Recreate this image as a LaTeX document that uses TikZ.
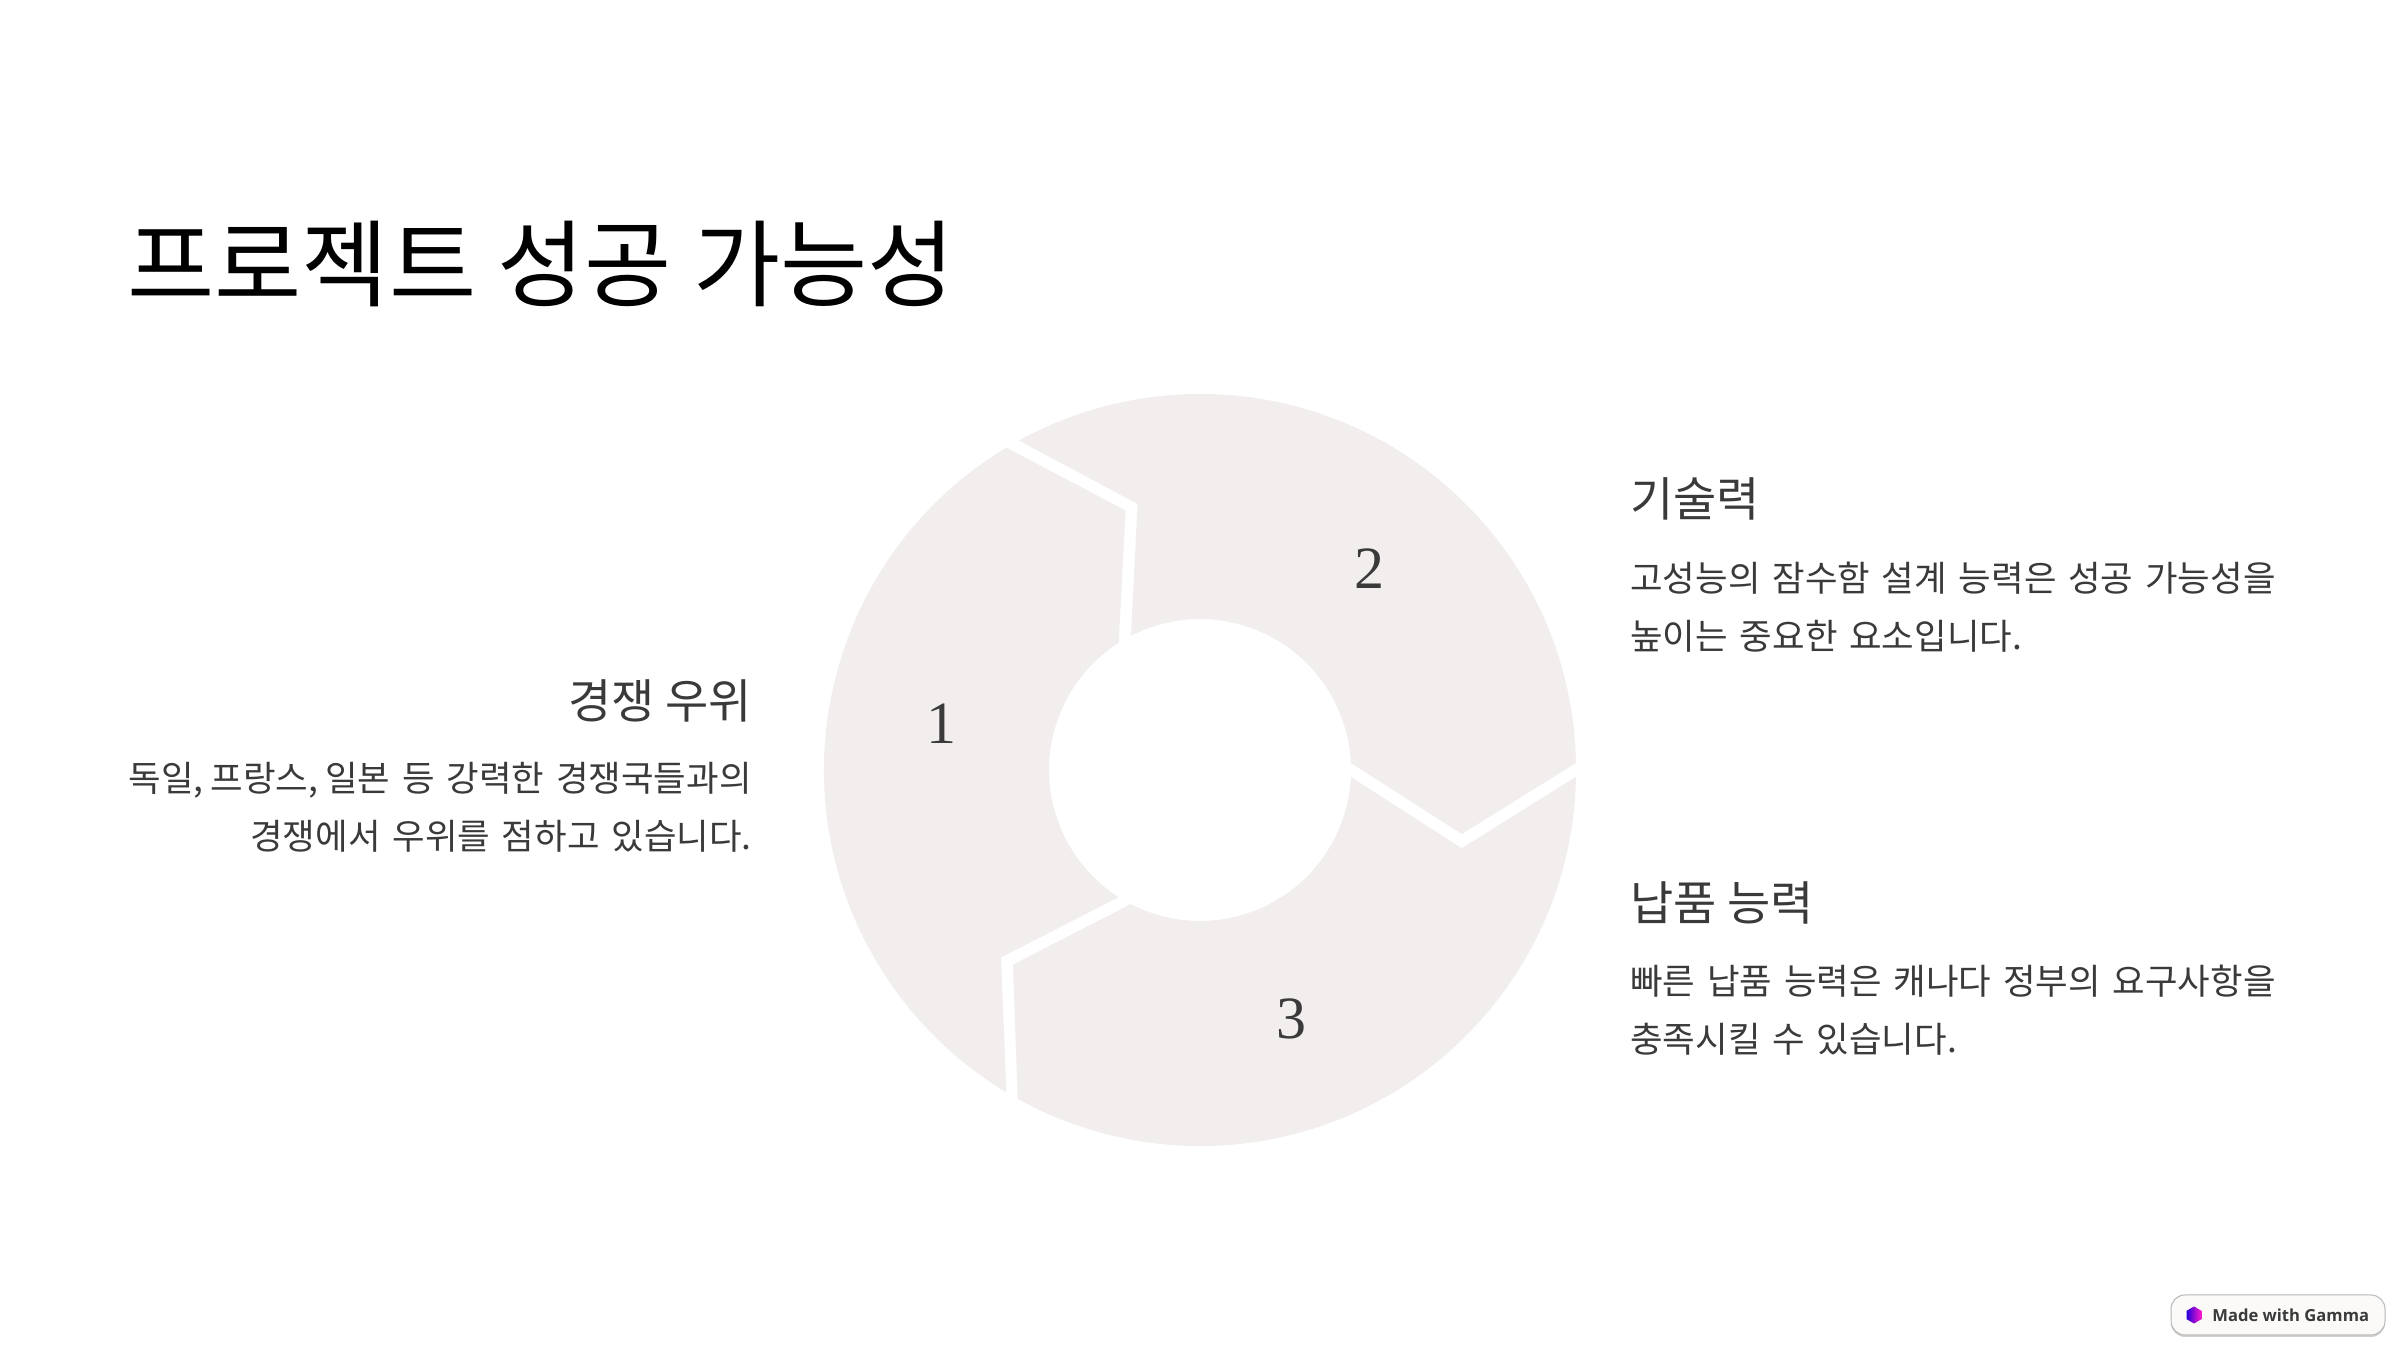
\documentclass[tikz,border=0pt]{standalone}
\usepackage{fontspec}
\setmainfont{Noto Sans CJK KR}
\newfontfamily\digitfont{Liberation Serif}
\newfontfamily\badgefont{Open Sans}
\usepackage{tikz}
\usetikzlibrary{positioning,shapes.geometric}
\usepackage{xcolor}
\definecolor{ink}{HTML}{3A3A3A}
\definecolor{petal}{HTML}{F1EEED}
\definecolor{badgeBg}{HTML}{FBFAF8}

\begin{document}
\begin{tikzpicture}[
    x=0.5pt, y=0.5pt,
    titleNode/.style={anchor=base west, inner sep=0pt, text=black, font=\fontsize{47.4}{54}\selectfont},
    headLeft/.style={anchor=base west, inner sep=0pt, text=ink, font=\fontsize{23.5}{28}\selectfont},
    headRight/.style={anchor=base east, inner sep=0pt, text=ink, font=\fontsize{23.5}{28}\selectfont},
    bodyText/.style={inner sep=0pt, text=ink, text width=340pt, font=\fontsize{17.7}{28.75}\selectfont},
    numNode/.style={inner sep=0pt, text=ink, font=\digitfont\fontsize{30}{30}\selectfont},
    petalShape/.style={fill=petal, draw=none}
]
    \useasboundingbox (0,0) rectangle (2400,1350);
    \fill[white] (0,0) rectangle (2400,1350);

    \node[titleNode] (title) at (127, 1050) {프로젝트 성공 가능성};

    % ring, three pieces round the middle
    \begin{scope}[shift={(1200,580)}]
        \fill[petalShape] (1.07:376) arc[start angle=1.07, end angle=118.8, radius=376]
            -- (-62.4,266.1) -- (117.2:151) arc[start angle=117.2, end angle=2.66, radius=151]
            -- (261.8,-64) -- cycle;
        \fill[petalShape] (-1.04:376) arc[start angle=-1.04, end angle=-119, radius=376]
            -- (-187,-194.6) -- (-117.3:151) arc[start angle=-117.3, end angle=-2.66, radius=151]
            -- (261.8,-78.3) -- cycle;
        \fill[petalShape] (121:376) arc[start angle=121, end angle=239, radius=376]
            -- (-199,-187.4) -- (237.4:151) arc[start angle=237.4, end angle=122.6, radius=151]
            -- (-74.4,259.5) -- cycle;
    \end{scope}

    \node[numNode] (one) at (941, 626) {1};
    \node[numNode] (two) at (1369, 781) {2};
    \node[numNode] (three) at (1291, 331) {3};

    \node[headRight] (edgeHead) at (752, 631) {경쟁 우위};
    \node[bodyText, anchor=north east, align=right] (edgeBody) at (752, 588) {독일,\kern-2.3pt{} 프랑스,\kern-2.3pt{} 일본 등 강력한 경쟁국들과의\\경쟁에서 우위를 점하고 있습니다.};

    \node[headLeft] (techHead) at (1630, 833) {기술력};
    \node[bodyText, anchor=north west, align=left] (techBody) at (1630, 788) {고성능의 잠수함 설계 능력은 성공 가능성을\\높이는 중요한 요소입니다.};

    \node[headLeft] (supplyHead) at (1630, 429) {납품 능력};
    \node[bodyText, anchor=north west, align=left] (supplyBody) at (1630, 385) {빠른 납품 능력은 캐나다 정부의 요구사항을\\충족시킬 수 있습니다.};

    % badge, lower right corner
    \fill[black!18, rounded corners=7pt] (2171,13) rectangle (2385,54);
    \node[draw=black!28, fill=badgeBg, rounded corners=7pt, minimum width=107pt, minimum height=20pt, inner sep=0pt, line width=0.5pt] (badge) at (2278,35) {};
    \node[regular polygon, regular polygon sides=6, rotate=30, left color=blue!70!violet, right color=magenta!80!orange, minimum size=8.5pt, inner sep=0pt] (badgeIcon) at (2194,35) {};
    \node[anchor=west, inner sep=0pt, text=ink, font=\badgefont\bfseries\fontsize{8.3}{10}\selectfont] (badgeText) at (2212,35) {Made with Gamma};
\end{tikzpicture}
\end{document}
